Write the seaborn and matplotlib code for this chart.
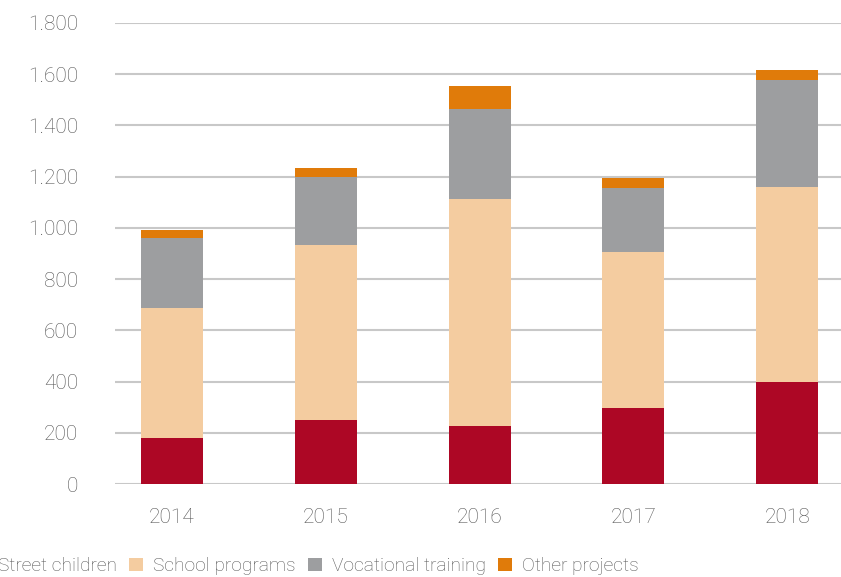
import matplotlib
matplotlib.use("Agg")
import matplotlib.pyplot as plt
import matplotlib.ticker as mticker
from matplotlib.patches import Patch
import seaborn as sns
import numpy as np

years = ["2014", "2015", "2016", "2017", "2018"]
street_children = [180, 250, 225, 297, 400]
school_programs = [507, 683, 887, 609, 758]
vocational_training = [275, 266, 351, 250, 421]
other_projects = [30, 35, 90, 39, 36]

series_names = ["Street children", "School programs", "Vocational training", "Other projects"]
colors = ["#ad0725", "#f4cca0", "#9d9ea0", "#e07b0a"]

sns.set_style("white")
plt.rcParams["font.family"] = ["Roboto", "DejaVu Sans"]
plt.rcParams["font.weight"] = "light"

fig = plt.figure(figsize=(8.41, 5.77), dpi=100)
ax = fig.add_axes([115 / 841, 1 - 484 / 577, (841 - 115) / 841, (484 - 23) / 577])

# stacked bars: draw cumulative totals from the top layer down
layers = np.array([street_children, school_programs, vocational_training, other_projects])
cum = np.cumsum(layers, axis=0)
for i in range(3, -1, -1):
    sns.barplot(x=years, y=cum[i], color=colors[i], width=0.404, saturation=1,
                edgecolor="none", linewidth=0, ax=ax, zorder=3)

ax.set_ylim(0, 1800)
ax.set_xlim(-0.371, 4.35)
ax.set_yticks(range(0, 1801, 200))
ax.yaxis.set_major_formatter(mticker.FuncFormatter(lambda v, p: f"{int(v):,}".replace(",", ".")))
ax.grid(axis="y", color="#c8c8c8", linewidth=1.5, zorder=0)
ax.set_axisbelow(True)
for s in ax.spines.values():
    s.set_visible(False)
ax.tick_params(axis="y", length=0, pad=26.5, labelsize=15, labelcolor="#555555")
ax.tick_params(axis="x", length=0, pad=17, labelsize=15, labelcolor="#555555")
ax.set_xlabel("")
ax.set_ylabel("")

handles = [Patch(facecolor=c, edgecolor="none") for c in colors]
fig.legend(handles, series_names, ncol=4, loc="center left",
           bbox_to_anchor=(-26 / 841, 1 - 566 / 577), frameon=False,
           fontsize=13.8, labelcolor="#555555", handlelength=0.73, handleheight=0.68,
           handletextpad=0.52, columnspacing=0.63, borderaxespad=0, borderpad=0)

fig.savefig("out.png", dpi=100)
